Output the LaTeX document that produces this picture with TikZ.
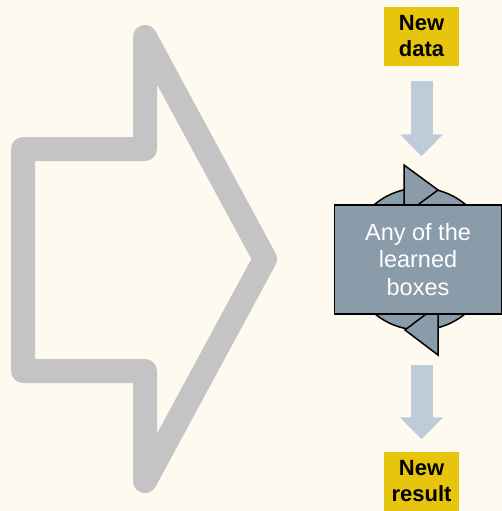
\documentclass[tikz,border=0pt]{standalone}
\usepackage{fontspec}
\setmainfont{Liberation Sans}
\usetikzlibrary{arrows.meta}

\definecolor{cream}{HTML}{FFFAEF}
\definecolor{gold}{HTML}{E7C50D}
\definecolor{outline}{HTML}{C4C4C4}
\definecolor{paleblue}{HTML}{BDCCD8}
\definecolor{slate}{HTML}{8A9BA9}

\tikzset{
	iobox/.style={fill=gold, minimum width=75pt, minimum height=59pt, inner sep=0pt,
		align=center, font=\fontsize{22}{26}\selectfont\bfseries},
	fatarrow/.style={draw=paleblue, line width=22pt, -{Triangle[width=42pt,length=22pt]}},
	modelbox/.style={draw=black, line width=1.5pt, fill=slate, text=white, minimum width=167pt,
		minimum height=109pt, align=center, font=\fontsize{23.5}{27.5}\selectfont},
	turn/.style={draw=black, line width=1.5pt, fill=slate}
}

\begin{document}
\begin{tikzpicture}[x=1pt, y=-1pt]
\useasboundingbox (0,0) rectangle (502,511);
\fill[cream] (0,0) rectangle (502,511);

% big hollow arrow on the left
\draw[outline, line width=24pt, line join=round]
	(145,37) -- (265,259) -- (145,481) -- (145,371) -- (23,371) -- (23,149) -- (145,149) -- cycle;

% loop behind the box
\node[turn, circle, minimum size=142pt, inner sep=0pt] (loop) at (420,259) {};
\filldraw[turn] (404,165) -- (438,190) -- (404,215) -- cycle;
\filldraw[turn] (438,305) -- (405,330) -- (438,355) -- cycle;

\node[modelbox] (model) at (418,259.5) {Any of the\\learned\\boxes};

\node[iobox] (newdata) at (421.5,36.5) {New\\data};
\node[iobox] (result) at (421.5,481) {New\\result};

\draw[fatarrow, shorten <=15pt, shorten >=48pt] (newdata.south) -- (newdata.south |- model.north);
\draw[fatarrow, shorten <=50pt, shorten >=12pt] (newdata.south |- model.south) -- (result.north);
\end{tikzpicture}
\end{document}
